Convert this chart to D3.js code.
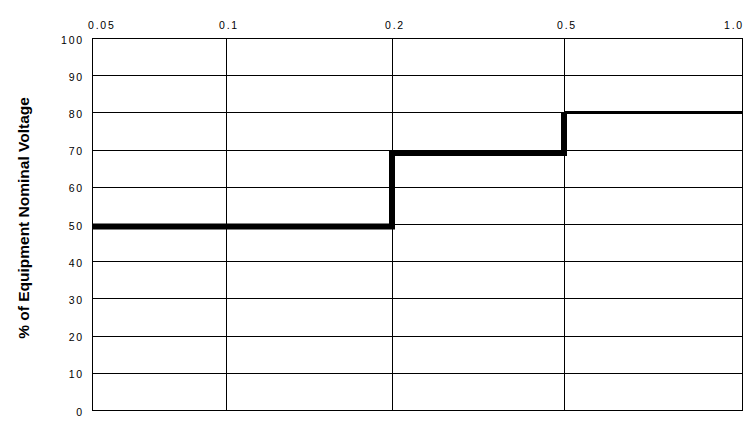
<!DOCTYPE html>
<html>
<head>
<meta charset="utf-8">
<script src="https://cdn.jsdelivr.net/npm/d3@7"></script>
<style>
  body { margin: 0; background: #fff; }
  svg { display: block; }
  text { font-family: "Liberation Sans", Arial, sans-serif; fill: #000; }
</style>
</head>
<body>
<div id="chart"></div>
<script>
// duration ticks along the top (seconds), voltage ticks on the left
var xTicks = [0.05, 0.1, 0.2, 0.5, 1.0];
var xTickLabels = ["0.05", "0.1", "0.2", "0.5", "1.0"];
var yTicks = [0, 10, 20, 30, 40, 50, 60, 70, 80, 90, 100];

// step curve: thick part and the thin tail
var thickX = [0.05, 0.2, 0.2, 0.5, 0.5];
var thickY = [49.3, 49.3, 69.1, 69.1, 80];
var thinX = [0.5, 1.0];
var thinY = [80, 80];

var width = 753, height = 427;
// plot box (note: "top" is reserved on window, so prefix these)
var plotLeft = 92, plotRight = 742, plotTop = 38, plotBottom = 410;

var svg = d3.select("#chart")
	.append("svg")
	.attr("width", width)
	.attr("height", height);

// the axis in the original is not a true log axis, so map tick to tick
var x = d3.scaleLinear()
	.domain(xTicks)
	.range([plotLeft, 226, 392, 564, plotRight]);

var y = d3.scaleLinear()
	.domain([0, 100])
	.range([plotBottom, plotTop]);

function crisp(v) { return Math.round(v) + 0.5; }

// horizontal gridlines
svg.append("g").selectAll("line")
	.data(yTicks)
	.enter().append("line")
	.attr("x1", plotLeft).attr("x2", plotRight + 1)
	.attr("y1", function(d) { return crisp(y(d)); })
	.attr("y2", function(d) { return crisp(y(d)); })
	.style("stroke", "#000")
	.style("stroke-width", 1);

// vertical gridlines (incl. frame edges)
svg.append("g").selectAll("line")
	.data(xTicks)
	.enter().append("line")
	.attr("x1", function(d) { return crisp(x(d)); })
	.attr("x2", function(d) { return crisp(x(d)); })
	.attr("y1", plotTop).attr("y2", plotBottom + 1)
	.style("stroke", "#000")
	.style("stroke-width", 1);

// y tick labels
svg.append("g").selectAll("text")
	.data(yTicks)
	.enter().append("text")
	.attr("x", plotLeft - 8)
	.attr("y", function(d) { return y(d) + 2; })
	.attr("dy", "0.35em")
	.attr("text-anchor", "end")
	.style("font-size", "10.5px")
	.style("letter-spacing", "1.8px")
	.text(function(d) { return d; });

// x tick labels on top
svg.append("g").selectAll("text")
	.data(xTicks)
	.enter().append("text")
	.attr("x", function(d, i) {
		if (i === 0) return x(d) - 4;
		if (i === xTicks.length - 1) return x(d) + 2;
		return x(d) + 3;
	})
	.attr("y", 29)
	.attr("text-anchor", function(d, i) {
		if (i === 0) return "start";
		if (i === xTicks.length - 1) return "end";
		return "middle";
	})
	.style("font-size", "10.5px")
	.style("letter-spacing", "1.8px")
	.text(function(d, i) { return xTickLabels[i]; });

// y axis title
svg.append("text")
	.attr("transform", "translate(29,218) rotate(-90)")
	.attr("text-anchor", "middle")
	.style("font-size", "15.5px")
	.style("font-weight", "bold")
	.text("% of Equipment Nominal Voltage");

var line = d3.line()
	.x(function(d) { return x(d[0]); })
	.y(function(d) { return y(d[1]); });

svg.append("path")
	.datum(d3.zip(thickX, thickY))
	.attr("d", line)
	.style("fill", "none")
	.style("stroke", "#000")
	.style("stroke-width", 6)
	.style("stroke-linejoin", "miter")
	.style("stroke-linecap", "butt");

svg.append("path")
	.datum(d3.zip(thinX, thinY))
	.attr("d", line)
	.style("fill", "none")
	.style("stroke", "#000")
	.style("stroke-width", 3);
</script>
</body>
</html>
